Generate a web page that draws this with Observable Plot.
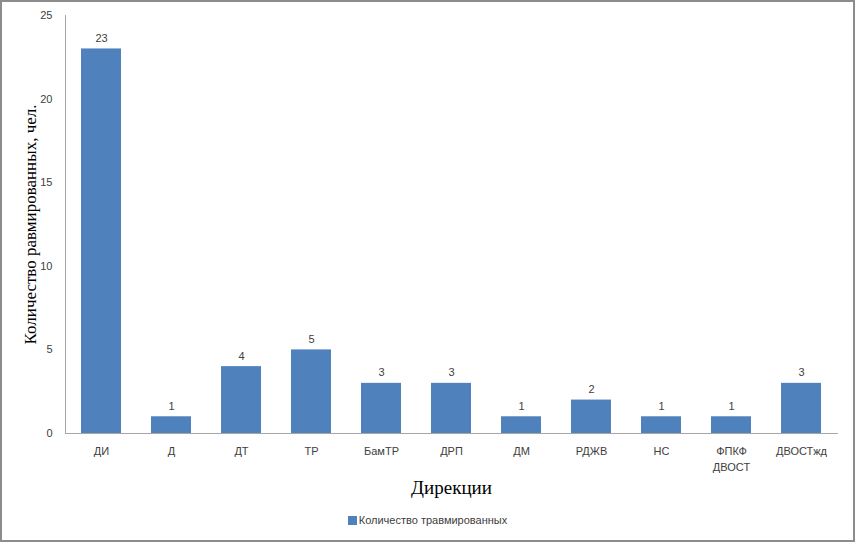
<!DOCTYPE html>
<html>
<head>
<meta charset="utf-8">
<script src="https://cdn.jsdelivr.net/npm/d3@7"></script>
<script src="https://cdn.jsdelivr.net/npm/@observablehq/plot@0.6"></script>
<style>
  html, body { margin: 0; padding: 0; background: #fff; }
  #wrap { position: relative; width: 855px; height: 542px; overflow: hidden; }
  #chart { position: absolute; left: 0; top: 0; }
  #border { position: absolute; left: 0; top: 0; width: 855px; height: 542px; box-sizing: border-box; border: 2px solid #8c8c8c; pointer-events: none; }
  #legend { position: absolute; top: 514px; left: 0; width: 855px; text-align: center; font-family: "Liberation Sans", sans-serif; font-size: 11px; color: #404040; }
  #legend .sw { display: inline-block; width: 9px; height: 9px; background: #4F81BD; margin-right: 2px; vertical-align: -1px; }
</style>
</head>
<body>
<div id="wrap">
  <div id="chart"></div>
  <div id="legend"><span class="sw"></span>Количество травмированных</div>
  <div id="border"></div>
</div>
<script>
const categories = ["ДИ", "Д", "ДТ", "ТР", "БамТР", "ДРП", "ДМ", "РДЖВ", "НС", "ФПКФ\nДВОСТ", "ДВОСТжд"];
const values = [23, 1, 4, 5, 3, 3, 1, 2, 1, 1, 3];
const yTicks = [0, 5, 10, 15, 20, 25];
const seriesName = "Количество травмированных";
const xTitle = "Дирекции";
const yTitle = "Количество равмированных, чел.";

const data = categories.map((c, i) => ({category: c, value: values[i]}));

const W = 855, H = 505;
const mL = 65, mR = 18, mT = 15, mB = 72;

const plot = Plot.plot({
  width: W,
  height: H,
  marginLeft: mL,
  marginRight: mR,
  marginTop: mT,
  marginBottom: mB,
  style: { fontFamily: "Liberation Sans, sans-serif", fontSize: "11px", color: "#404040", background: "transparent" },
  x: { domain: categories, paddingInner: 0.43, paddingOuter: 0.215, label: null },
  y: { domain: [0, 25], label: null },
  marks: [
    Plot.axisX({ tickSize: 0, tickPadding: 11, fontSize: 11, lineHeight: 1.4, fill: "#404040", label: null }),
    Plot.axisY({ ticks: yTicks, tickSize: 0, tickPadding: 13, fontSize: 11, fill: "#404040", label: null }),
    Plot.barY(data, { x: "category", y: "value", fill: "#4F81BD" }),
    Plot.text(data, { x: "category", y: "value", text: d => String(d.value), lineAnchor: "bottom", dy: -7, fontSize: 11, fill: "#404040" }),
    Plot.frame({ anchor: "left", stroke: "#a6a6a6" }),
    Plot.frame({ anchor: "bottom", stroke: "#a6a6a6" }),
    Plot.text([xTitle], { frameAnchor: "bottom", dy: 60, text: d => d, fontFamily: "Liberation Serif, serif", fontSize: 19, fill: "#000", lineAnchor: "bottom" }),
    Plot.text([yTitle], { frameAnchor: "left", textAnchor: "middle", dx: -35, rotate: -90, text: d => d, fontFamily: "Liberation Serif, serif", fontSize: 17, fill: "#000" })
  ]
});
document.getElementById("chart").appendChild(plot);
</script>
</body>
</html>
